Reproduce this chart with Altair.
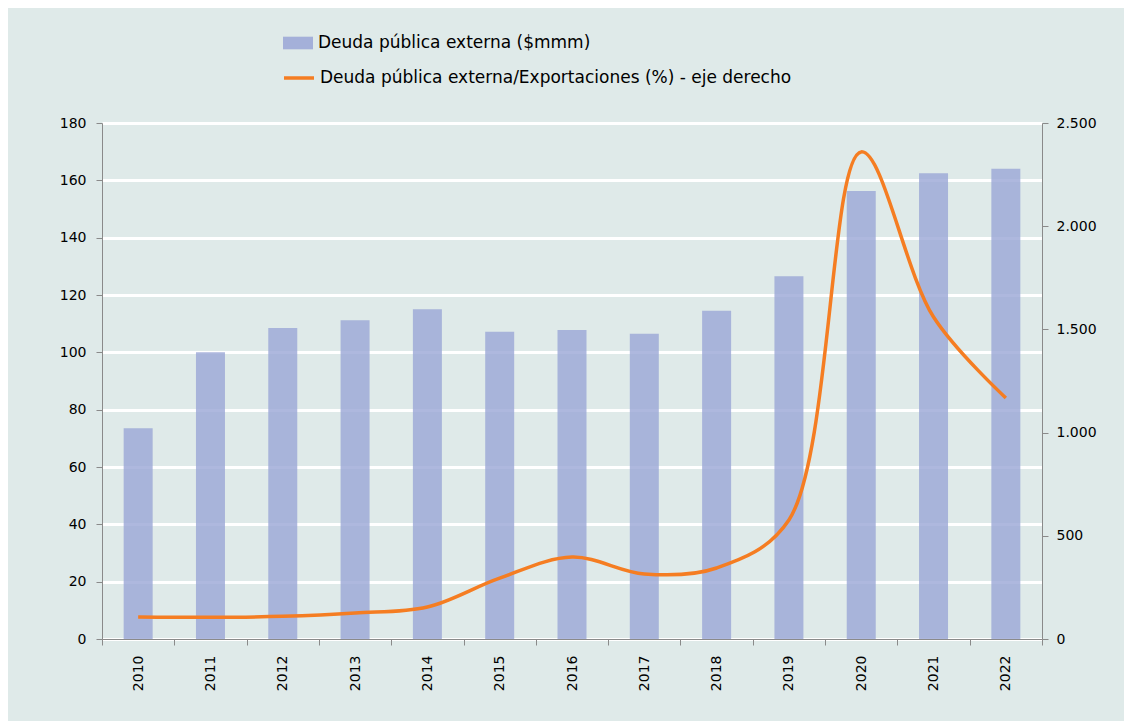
import altair as alt
import pandas as pd

years = ["2010", "2011", "2012", "2013", "2014", "2015", "2016",
         "2017", "2018", "2019", "2020", "2021", "2022"]
deuda = [73.5, 100.0, 108.5, 111.2, 115.0, 107.2, 107.8, 106.5, 114.5, 126.5, 156.3, 162.5, 164.0]
ratio = [107, 105, 110, 126, 155, 295, 397, 315, 344, 577, 2360, 1560, 1168]

bar_name = "Deuda pública externa ($mmm)"
line_name = "Deuda pública externa/Exportaciones (%) - eje derecho"

df = pd.DataFrame({"year": years, "deuda": deuda, "ratio": ratio,
                   "s1": bar_name, "s2": line_name})

FONT = "DejaVu Sans"
BG = "#dfeae9"

x_enc = alt.X("year:N", title=None, sort=years,
              scale=alt.Scale(paddingInner=0.0, paddingOuter=0.0),
              axis=alt.Axis(labelAngle=270, labelAlign="right", labelBaseline="middle",
                            labelPadding=10, tickBand="extent", domainColor="#8a8a8a",
                            tickColor="#8a8a8a", tickSize=6, labelFontSize=14,
                            labelColor="#000000", grid=False))

bars = alt.Chart(df).mark_bar(size=29, opacity=0.8).encode(
    x=x_enc,
    y=alt.Y("deuda:Q", title=None,
            scale=alt.Scale(domain=[0, 180], nice=False),
            axis=alt.Axis(values=list(range(0, 181, 20)), orient="left",
                          grid=True, gridColor="#ffffff", gridWidth=3,
                          domainColor="#8a8a8a", tickColor="#8a8a8a", tickSize=6,
                          labelFontSize=14, labelColor="#000000", labelPadding=10)),
    color=alt.Color("s1:N", title=None,
                    scale=alt.Scale(domain=[bar_name], range=["#9aa6d6"]),
                    legend=alt.Legend(orient="none", legendX=180, legendY=-96,
                                      symbolType="M-1,-0.42H1V0.42H-1Z", symbolSize=900,
                                      symbolOpacity=0.85, labelLimit=0,
                                      labelFontSize=17, labelFont=FONT, labelColor="#000000",
                                      labelOffset=4)),
)

line = alt.Chart(df).mark_line(strokeWidth=3.5, interpolate="catmull-rom").encode(
    x=alt.X("year:N", sort=years),
    y=alt.Y("ratio:Q", title=None,
            scale=alt.Scale(domain=[0, 2500], nice=False),
            axis=alt.Axis(values=list(range(0, 2501, 500)), orient="right", grid=False,
                          labelExpr="replace(format(datum.value, ','), ',', '.')",
                          domainColor="#8a8a8a", tickColor="#8a8a8a", tickSize=6,
                          labelFontSize=14, labelColor="#000000", labelPadding=8)),
    stroke=alt.Stroke("s2:N", title=None,
                      scale=alt.Scale(domain=[line_name], range=["#f57d22"]),
                      legend=alt.Legend(orient="none", legendX=180, legendY=-62,
                                        symbolType="stroke", symbolStrokeWidth=3.5,
                                        symbolSize=900, labelLimit=0,
                                        labelFontSize=17, labelFont=FONT, labelColor="#000000",
                                        labelOffset=4)),
)

chart = alt.layer(bars, line).resolve_scale(
    y="independent", color="independent", stroke="independent"
).properties(
    width=940, height=516,
    autosize=alt.AutoSizeParams(type="none"),
    padding={"left": 94, "top": 115, "right": 82, "bottom": 82},
    background=BG,
).configure_view(stroke=None, fill=BG).configure_axis(
    labelFont=FONT
)

chart.save("out.html", embed_options={"renderer": "svg", "actions": False})
